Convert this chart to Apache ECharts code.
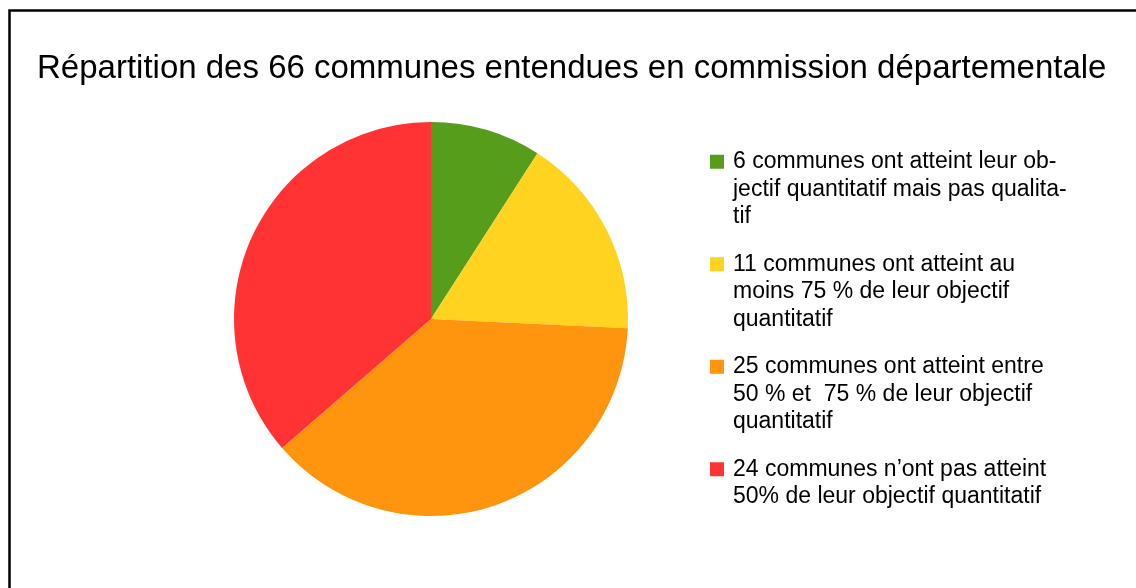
<!DOCTYPE html>
<html>
<head>
<meta charset="utf-8">
<title>Répartition des communes</title>
<script src="https://cdn.jsdelivr.net/npm/echarts@6/dist/echarts.min.js"></script>
<style>
  html, body { margin: 0; padding: 0; background: #fff; }
  #chart { width: 1136px; height: 588px; }
</style>
</head>
<body>
<div id="chart"></div>
<script>
// titre
var titleText = 'Répartition des 66 communes entendues en commission départementale';

// libellés de la légende (découpés comme sur l'original)
var categories = [
  ['6 communes ont atteint leur ob-', 'jectif quantitatif mais pas qualita-', 'tif'],
  ['11 communes ont atteint au', 'moins 75 % de leur objectif', 'quantitatif'],
  ['25 communes ont atteint entre', '50 % et  75 % de leur objectif', 'quantitatif'],
  ['24 communes n\u2019ont pas atteint', '50% de leur objectif quantitatif']
];
// nombre de communes
var counts = [6, 11, 25, 24];
var colors = ['#579d1c', '#ffd320', '#ff950e', '#ff3333'];

var font = '"Liberation Sans", Arial, sans-serif';
var names = categories.map(function (c) { return c.join('\n'); });

// rich styles : carré de couleur + retrait des lignes suivantes
var rich = {
  t: { fontSize: 23, fontFamily: font, color: '#000', lineHeight: 27.5, verticalAlign: 'middle' },
  gap: { width: 9, height: 14 },
  ind: { width: 23, height: 14 }
};
colors.forEach(function (c, i) {
  rich['m' + i] = { width: 14, height: 14, backgroundColor: c, verticalAlign: 'middle' };
});

var chart = echarts.init(document.getElementById('chart'));
chart.setOption({
  animation: false,
  color: colors,
  title: {
    text: titleText,
    left: 32,
    top: 47,
    textStyle: { fontSize: 33, fontWeight: 'normal', fontFamily: font, color: '#000' }
  },
  legend: {
    orient: 'vertical',
    left: 700,
    top: 143,
    itemWidth: 0,
    itemHeight: 0,
    itemGap: 20,
    data: names,
    formatter: function (name) {
      var i = names.indexOf(name);
      return categories[i].map(function (line, k) {
        return (k === 0 ? '{m' + i + '|}{gap|}' : '{ind|}') + '{t|' + line + '}';
      }).join('\n');
    },
    textStyle: { rich: rich, lineHeight: 27.5 }
  },
  graphic: [{
    type: 'rect',
    shape: { x: 9.5, y: 10.5, width: 1200, height: 700 },
    style: { fill: null, stroke: '#000', lineWidth: 2.5 },
    silent: true
  }],
  series: [{
    type: 'pie',
    center: [431, 319],
    radius: 197,
    startAngle: 90,
    clockwise: true,
    label: { show: false },
    labelLine: { show: false },
    itemStyle: { borderWidth: 0 },
    data: counts.map(function (v, i) { return { name: names[i], value: v }; })
  }]
});
</script>
</body>
</html>
